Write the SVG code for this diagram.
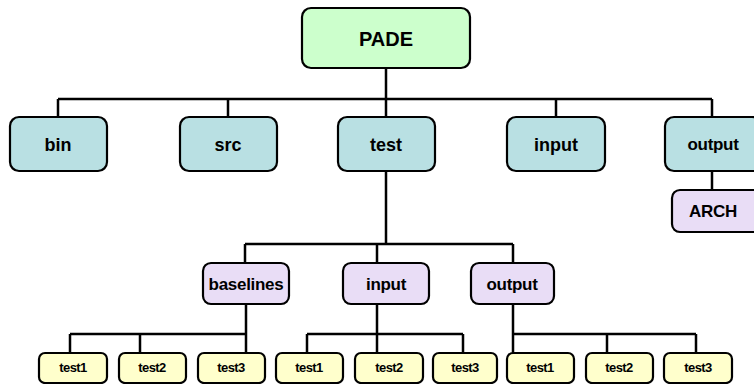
<svg xmlns="http://www.w3.org/2000/svg" width="754" height="384" viewBox="0 0 754 384">
<style>
.b{stroke:#000;stroke-width:2.2}
.g{fill:#ccffcc}
.c{fill:#b9e0e3}
.p{fill:#e9ddf6}
.y{fill:#ffffcc}
text{font-family:"Liberation Sans",Arial,sans-serif;font-weight:bold;text-anchor:middle;fill:#000}
.t1{font-size:20px}
.t2{font-size:18px}
.t3{font-size:17px;letter-spacing:-0.3px}
.t4{font-size:13px;letter-spacing:-0.6px}
.e{fill:none;stroke:#000;stroke-width:2.5}
</style>
<rect width="754" height="384" fill="#fff"/>
<g id="connectors">
<path class="e" d="M386 68V99M58 99H712M58 99V118M228 99V118M386 99V118M556 99V118M712 99V118"/>
<path class="e" d="M712 171V190"/>
<path class="e" d="M386 171V244M245 244H513M245 244V263M377 244V263M513 244V263"/>
<path class="e" d="M246 304V353M70 334H246M70 334V353M140 334V353"/>
<path class="e" d="M377 304V353M307 334H463M307 334V353M463 334V353"/>
<path class="e" d="M513 304V353M513 334H696M607 334V353M696 334V353"/>
</g>
<g id="PADE"><rect class="b g" x="302" y="8" width="168" height="60" rx="9"/><text class="t1" x="386" y="46">PADE</text></g>
<g id="bin"><rect class="b c" x="10" y="117" width="97" height="54" rx="9"/><text class="t2" x="58" y="151">bin</text></g>
<g id="src"><rect class="b c" x="180" y="117" width="97" height="54" rx="9"/><text class="t2" x="228" y="151">src</text></g>
<g id="test"><rect class="b c" x="338" y="117" width="97" height="54" rx="9"/><text class="t2" x="386" y="151">test</text></g>
<g id="input"><rect class="b c" x="507" y="117" width="98" height="54" rx="9"/><text class="t2" x="556" y="151">input</text></g>
<g id="output"><rect class="b c" x="665" y="117" width="96" height="54" rx="9"/><text class="t3" x="713" y="150">output</text></g>
<g id="ARCH"><rect class="b p" x="672" y="190" width="90" height="42" rx="8"/><text class="t3" x="713" y="217">ARCH</text></g>
<g id="baselines"><rect class="b p" x="203" y="263" width="86" height="41" rx="8"/><text class="t3" x="246" y="290">baselines</text></g>
<g id="input2"><rect class="b p" x="343" y="263" width="86" height="41" rx="8"/><text class="t3" x="386" y="290">input</text></g>
<g id="output2"><rect class="b p" x="471" y="263" width="83" height="41" rx="8"/><text class="t3" x="512" y="290">output</text></g>
<g id="b_test1"><rect class="b y" x="39" y="353" width="68" height="30" rx="6"/><text class="t4" x="73" y="372">test1</text></g>
<g id="b_test2"><rect class="b y" x="119" y="353" width="67" height="30" rx="6"/><text class="t4" x="152" y="372">test2</text></g>
<g id="b_test3"><rect class="b y" x="198" y="353" width="67" height="30" rx="6"/><text class="t4" x="231" y="372">test3</text></g>
<g id="i_test1"><rect class="b y" x="276" y="353" width="67" height="30" rx="6"/><text class="t4" x="309" y="372">test1</text></g>
<g id="i_test2"><rect class="b y" x="355" y="353" width="68" height="30" rx="6"/><text class="t4" x="389" y="372">test2</text></g>
<g id="i_test3"><rect class="b y" x="433" y="353" width="64" height="30" rx="6"/><text class="t4" x="465" y="372">test3</text></g>
<g id="o_test1"><rect class="b y" x="507" y="353" width="67" height="30" rx="6"/><text class="t4" x="540" y="372">test1</text></g>
<g id="o_test2"><rect class="b y" x="586" y="353" width="67" height="30" rx="6"/><text class="t4" x="619" y="372">test2</text></g>
<g id="o_test3"><rect class="b y" x="664" y="353" width="68" height="30" rx="6"/><text class="t4" x="698" y="372">test3</text></g>
</svg>
